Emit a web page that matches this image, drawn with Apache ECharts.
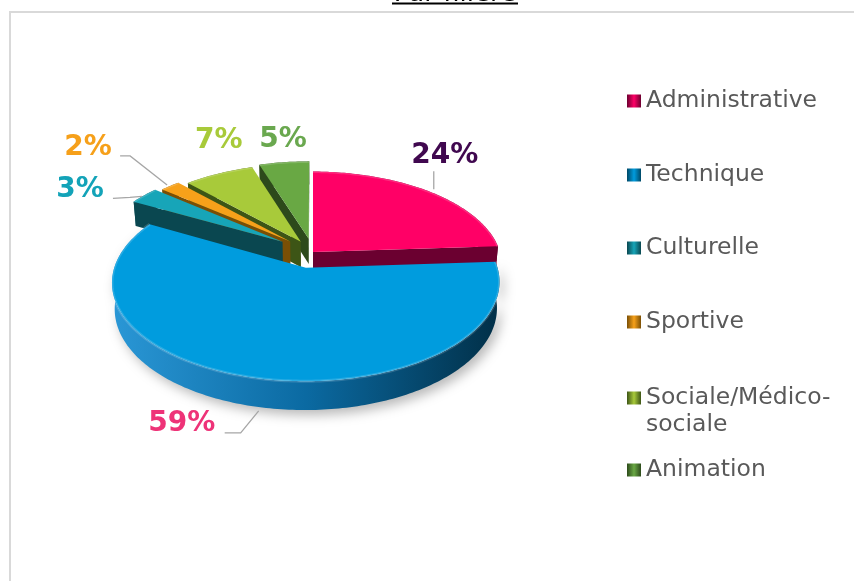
<!DOCTYPE html>
<html>
<head>
<meta charset="utf-8">
<title>Par filière</title>
<script src="https://cdn.jsdelivr.net/npm/echarts@6/dist/echarts.min.js"></script>
<style>
  html, body { margin: 0; padding: 0; background: #ffffff; }
  #chart { width: 854px; height: 581px; }
</style>
</head>
<body>
<div id="chart"></div>
<script>
// ---- data ----
const categories = ['Administrative', 'Technique', 'Culturelle', 'Sportive', 'Sociale/Médico-sociale', 'Animation'];
// the leading blank line keeps the marker beside the first line of the wrapped entry
const legendText = ['Administrative', 'Technique', 'Culturelle', 'Sportive', ' \nSociale/Médico-\nsociale', 'Animation'];
const shares = [24, 59, 3, 2, 7, 5];
const titleText = 'Par filière';

// ---- styling ----
const topColors   = ['#FF0066', '#009CDE', '#17A5B8', '#F7A11A', '#A8CA3A', '#69A844'];
const wallColors  = [
  ['#86003f', '#5a0029'],
  ['#2a97d6', '#0b6aa2', '#012f47'],
  ['#0e5a65', '#083a42'],
  ['#8f5d07', '#5e3d02'],
  ['#5a761d', '#3a4f12'],
  ['#38591f', '#263e16']
];
const faceColors  = ['#6b0030', '#004866', '#0a4750', '#7a4f05', '#3d5516', '#2d4a1b'];
const labelColors = ['#40084F', '#EE3378', '#13A3B8', '#F6A01A', '#A8CA3A', '#6AA84F'];
const explode     = [0, 0.17, 0.2, 0.17, 0.13, 0.15];
// label centre and leader points, relative to the slice's anchor on the rim
const labelLayout = [
  { text: [16, -36], line: [[5, -2], [5, -20]] },
  { text: [-75, 17], line: [[2, 4], [-16, 26], [-32, 26]] },
  { text: [-64, -6], line: [[-2, 1], [-14, 2], [-31, 3]] },
  { text: [-82, -38], line: [[-3, -1], [-40, -30], [-50, -30]] },
  { text: [0, -33], line: null },
  { text: [-1, -22], line: null }
];
const legendCenters = [101, 175, 248, 322, 398, 470];

// perspective view of the pie disc
const VIEW = { cx: 313, cy: 252, scale: 187, tilt: 29.5 * Math.PI / 180, dist: 6, height: 0.16 };

const TAU = Math.PI * 2;
const total = shares.reduce((a, b) => a + b, 0);
const starts = [];
(function () { let acc = 0; shares.forEach(v => { starts.push(acc / total * TAU); acc += v; }); })();

const SA = Math.sin(VIEW.tilt), CA = Math.cos(VIEW.tilt);
const EYE = [0, -VIEW.dist * CA, VIEW.dist * SA];

function project(X, Y, Z) {
  const v = Y * SA + Z * CA;
  const d = Y * CA - Z * SA;
  const p = VIEW.dist / (VIEW.dist + d);
  return [VIEW.cx + VIEW.scale * X * p, VIEW.cy - VIEW.scale * v * p];
}

function midAngle(i, value) {
  return starts[i] + value / total * TAU / 2;
}

// far slices are painted first
const depthRank = (function () {
  const idx = shares.map((v, i) => i);
  const depth = i => {
    const m = midAngle(i, shares[i]);
    return (explode[i] + 0.5) * Math.cos(m);
  };
  idx.sort((a, b) => depth(b) - depth(a));
  const rank = [];
  idx.forEach((i, r) => { rank[i] = r; });
  return rank;
})();

function facing(nx, ny, px, py) {
  return nx * (EYE[0] - px) + ny * (EYE[1] - py) > 0;
}

function wallGradient(stops) {
  const n = stops.length - 1;
  return new echarts.graphic.LinearGradient(0, 0, 1, 0,
    stops.map((c, k) => ({ offset: k / n, color: c })));
}

function renderSlice(i) {
  return function (params, api) {
    const value = api.value(0);
    const a0 = starts[i];
    const a1 = a0 + value / total * TAU;
    const m = (a0 + a1) / 2;
    const e = explode[i];
    const ox = e * Math.sin(m), oy = e * Math.cos(m);
    const H = VIEW.height;
    const steps = Math.max(4, Math.ceil((a1 - a0) / (TAU / 360)));
    const arc = Z => {
      const pts = [];
      for (let k = 0; k <= steps; k++) {
        const t = a0 + (a1 - a0) * k / steps;
        pts.push(project(ox + Math.sin(t), oy + Math.cos(t), Z));
      }
      return pts;
    };
    const topArc = arc(0), botArc = arc(-H);
    const apexTop = project(ox, oy, 0), apexBot = project(ox, oy, -H);
    const base = 10 + depthRank[i] * 4;
    const children = [];

    // outer rim
    children.push({
      type: 'polygon', z2: base, silent: true,
      shape: { points: topArc.concat(botArc.slice().reverse()) },
      style: Object.assign({ fill: wallGradient(wallColors[i]) },
        i === 1 ? { shadowBlur: 12, shadowColor: 'rgba(0,0,0,0.28)', shadowOffsetX: 4, shadowOffsetY: 5 } : {})
    });
    // radial faces, only those turned towards the eye
    const faces = [
      { a: a0, n: [-Math.cos(a0), Math.sin(a0)], pts: [apexTop, topArc[0], botArc[0], apexBot] },
      { a: a1, n: [Math.cos(a1), -Math.sin(a1)], pts: [apexTop, topArc[steps], botArc[steps], apexBot] }
    ];
    faces.forEach((f, k) => {
      const px = ox + 0.5 * Math.sin(f.a), py = oy + 0.5 * Math.cos(f.a);
      if (facing(f.n[0], f.n[1], px, py)) {
        children.push({
          type: 'polygon', z2: base + 1 + k, silent: true,
          shape: { points: f.pts },
          style: { fill: faceColors[i] }
        });
      }
    });
    // top face with a faint bevel along its curved edge
    children.push({
      type: 'polygon', z2: 100, silent: true,
      shape: { points: [apexTop].concat(topArc) },
      style: { fill: topColors[i] }
    });
    children.push({
      type: 'polyline', z2: 101, silent: true,
      shape: { points: topArc },
      style: { stroke: 'rgba(255,255,255,0.16)', lineWidth: 3, fill: null }
    });

    // value label with its leader
    const front = Math.cos(m) < 0;
    const anchor = project(ox + Math.sin(m), oy + Math.cos(m), front ? -H : 0);
    const lay = labelLayout[i];
    if (lay.line) {
      children.push({
        type: 'polyline', z2: 150, silent: true,
        shape: { points: lay.line.map(p => [anchor[0] + p[0], anchor[1] + p[1]]) },
        style: { stroke: '#A6A6A6', lineWidth: 1.3, fill: null }
      });
    }
    children.push({
      type: 'text', z2: 200, silent: true,
      x: anchor[0] + lay.text[0], y: anchor[1] + lay.text[1],
      style: {
        text: value + '%', fill: labelColors[i],
        fontFamily: 'DejaVu Sans', fontWeight: 'bold', fontSize: 28,
        align: 'center', verticalAlign: 'middle'
      }
    });
    return { type: 'group', children };
  };
}

const series = categories.map((name, i) => ({
  type: 'custom',
  name,
  coordinateSystem: 'none',
  silent: true,
  animation: false,
  itemStyle: { color: topColors[i] },
  data: [[shares[i]]],
  renderItem: renderSlice(i)
}));

const legends = categories.map((name, i) => {
  const lines = legendText[i].split('\n').length;
  return {
    data: [{
      name,
      itemStyle: {
        color: new echarts.graphic.LinearGradient(0, 0, 1, 0, [
          { offset: 0, color: faceColors[i] },
          { offset: 0.5, color: topColors[i] },
          { offset: 1, color: faceColors[i] }
        ])
      }
    }],
    left: 627,
    top: legendCenters[i] - lines * 13.5,
    padding: 0,
    orient: 'vertical',
    icon: 'rect',
    itemWidth: 14,
    itemHeight: 13,
    selectedMode: false,
    formatter: () => legendText[i],
    textStyle: { fontFamily: 'DejaVu Sans', fontSize: 23.5, color: '#595959', lineHeight: 27 }
  };
});

const chart = echarts.init(document.getElementById('chart'), null, { renderer: 'canvas' });
chart.setOption({
  backgroundColor: '#ffffff',
  animation: false,
  legend: legends,
  graphic: [
    { type: 'rect', z: -10, silent: true,
      shape: { x: 10, y: 12, width: 900, height: 700 },
      style: { fill: null, stroke: '#D9D9D9', lineWidth: 2 } },
    { type: 'text', silent: true, x: 455, y: -6,
      style: { text: titleText, fill: '#000000', fontFamily: 'DejaVu Sans', fontSize: 26,
               align: 'center', verticalAlign: 'middle' } },
    { type: 'line', silent: true,
      shape: { x1: 392, y1: 3.5, x2: 518, y2: 3.5 },
      style: { stroke: '#000000', lineWidth: 2 } }
  ],
  series
});
</script>
</body>
</html>
